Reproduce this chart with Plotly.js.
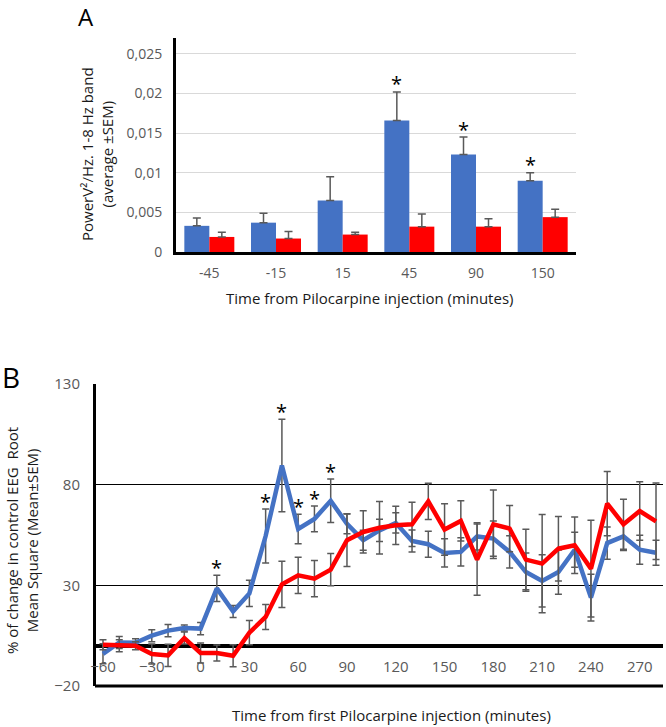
<!DOCTYPE html>
<html>
<head>
<meta charset="utf-8">
<script src="https://cdn.plot.ly/plotly-3.0.1.min.js"></script>
<style>html,body{margin:0;padding:0;background:#fff;}</style>
</head>
<body>
<div id="chart" style="width:666px;height:727px;"></div>
<script>
// ---------- Panel A data ----------
const catsA = ['-45', '-15', '15', '45', '90', '150'];
const blueA = [0.0033, 0.0037, 0.0065, 0.0166, 0.0123, 0.0090];
const blueErrA = [0.0010, 0.0012, 0.0030, 0.0036, 0.0022, 0.0010];
const redA = [0.0019, 0.0017, 0.0022, 0.0032, 0.0032, 0.0044];
const redErrA = [0.0006, 0.0009, 0.0003, 0.0016, 0.0010, 0.0010];
const starsA = ['45', '90', '150'];
const yTickValsA = [0, 0.005, 0.01, 0.015, 0.02, 0.025];
const yTickTextA = ['0', '0,005', '0,01', '0,015', '0,02', '0,025'];

// ---------- Panel B data ----------
const timeB = [-60, -50, -40, -30, -20, -10, 0, 10, 20, 30, 40, 50, 60, 70, 80, 90, 100, 110, 120, 130,
               140, 150, 160, 170, 180, 190, 200, 210, 220, 230, 240, 250, 260, 270, 280];
const blueB = [-4, 1.6, 1.5, 5, 7.5, 8.8, 8.5, 28.5, 17, 26, 54.5, 89.5, 58, 63, 72,
               60.6, 52.4, 57.3, 61, 52, 50.4, 46.1, 46.6, 54.3, 53.2, 46.6, 36.6, 32.2, 36.6, 47.7, 23.9, 51, 54.3, 47.7, 46.2];
const blueErrB = [5, 3, 2, 3, 3, 1.5, 3, 6.5, 3, 6.5, 13.4, 23, 7.3, 6.4, 10.8,
                  5, 5, 5.5, 5, 5.5, 6.5, 7, 7, 6.8, 8.8, 8, 9.5, 13, 11, 8.7, 11.6, 8, 7, 7.2, 6.2];
const redB = [0.5, 0, 0, -4.1, -4.8, 3.8, -3.6, -3.6, -5, 6.5, 14.3, 30.5, 35, 33.3, 37.8,
              52.4, 56.5, 58.6, 59.8, 60.3, 71.7, 57.7, 62, 42.8, 60.3, 58.2, 42.8, 40.8, 48.2, 49.9, 38.3, 70.6, 60.3, 66.9, 61.8];
const redErrB = [2.5, 3, 2, 5, 5.5, 3, 5, 4, 5.5, 6, 6.2, 11.5, 9, 9, 8,
                 13, 10.5, 13, 9.5, 11, 9, 12.8, 10, 17.7, 17, 11.5, 15, 24.4, 16, 14, 24, 16, 12.4, 14.5, 19];
const starsB = [10, 40, 50, 60, 70, 80];
const xTickValsB = [-60, -30, 0, 30, 60, 90, 120, 150, 180, 210, 240, 270];
const yTickValsB = [-20, 30, 80, 130];

// ---------- Layout helpers ----------
const W = 666, H = 727;
const fx = x => x / W;
const fy = y => 1 - y / H;
const BLUE = '#4472C4', RED = '#FF0000', ERR = '#595959';
const FONT = 'Open Sans, sans-serif';

const traces = [
  {type: 'bar', x: catsA, y: blueA, xaxis: 'x', yaxis: 'y', marker: {color: BLUE},
   error_y: {type: 'data', symmetric: false, array: blueErrA, arrayminus: blueErrA.map(() => 0), color: ERR, thickness: 1.5, width: 4}},
  {type: 'bar', x: catsA, y: redA, xaxis: 'x', yaxis: 'y', marker: {color: RED},
   error_y: {type: 'data', symmetric: false, array: redErrA, arrayminus: redErrA.map(() => 0), color: ERR, thickness: 1.5, width: 4}},
  {type: 'scatter', mode: 'lines', x: timeB, y: blueB, xaxis: 'x2', yaxis: 'y2',
   line: {color: BLUE, width: 4.5},
   error_y: {type: 'data', array: blueErrB, color: ERR, thickness: 1.5, width: 3.5}},
  {type: 'scatter', mode: 'lines', x: timeB, y: redB, xaxis: 'x2', yaxis: 'y2',
   line: {color: RED, width: 4.5},
   error_y: {type: 'data', array: redErrB, color: ERR, thickness: 1.5, width: 3.5}}
];

const annotations = [];
const bwA = (400 / catsA.length) * 0.75 / 2;
starsA.forEach(s => {
  const i = catsA.indexOf(s);
  annotations.push({x: i, y: blueA[i] + blueErrA[i], xref: 'x', yref: 'y', text: '*', showarrow: false,
    xanchor: 'center', xshift: -bwA / 2, yanchor: 'middle', yshift: 8, font: {family: FONT, size: 20, color: '#000'}});
});
starsB.forEach(s => {
  const i = timeB.indexOf(s);
  annotations.push({x: s, y: blueB[i] + blueErrB[i], xref: 'x2', yref: 'y2', text: '*', showarrow: false,
    xanchor: 'center', yanchor: 'middle', yshift: 8, font: {family: FONT, size: 20, color: '#000'}});
});
const P = {xref: 'paper', yref: 'paper', showarrow: false, xanchor: 'center', yanchor: 'middle'};
annotations.push(
  Object.assign({x: fx(86), y: fy(16), text: 'A', font: {family: FONT, size: 24, color: '#000'}}, P),
  Object.assign({x: fx(11), y: fy(377), text: 'B', font: {family: FONT, size: 28, color: '#000'}}, P),
  Object.assign({x: fx(97), y: fy(154), text: 'PowerV²/Hz. 1-8 Hz band<br>(average ±SEM)', textangle: -90,
   font: {family: FONT, size: 15, color: '#1a1a1a'}}, P),
  Object.assign({x: fx(369), y: fy(298), text: 'Time from Pilocarpine injection (minutes)',
   font: {family: FONT, size: 15, color: '#1a1a1a'}}, P),
  Object.assign({x: fx(22), y: fy(541), text: '% of change in control EEG  Root<br>Mean Square (Mean±SEM)', textangle: -90,
   font: {family: FONT, size: 15, color: '#1a1a1a'}}, P),
  Object.assign({x: fx(392), y: fy(715), text: 'Time from first Pilocarpine injection (minutes)',
   font: {family: FONT, size: 15, color: '#1a1a1a'}}, P)
);

const layout = {
  width: W, height: H, margin: {l: 0, r: 0, t: 0, b: 0},
  paper_bgcolor: '#fff', plot_bgcolor: 'rgba(0,0,0,0)', showlegend: false,
  barmode: 'group', bargap: 0.25, bargroupgap: 0,
  font: {family: FONT, size: 14, color: '#595959'},
  xaxis: {domain: [fx(176), fx(576)], anchor: 'y', type: 'category', categoryorder: 'array', categoryarray: catsA,
    range: [-0.5, catsA.length - 0.5],
    showline: true, linecolor: '#000', linewidth: 3, showgrid: false, zeroline: false,
    ticks: 'outside', ticklen: 6, tickcolor: 'rgba(0,0,0,0)', tickfont: {family: FONT, size: 14, color: '#595959'}},
  yaxis: {domain: [fy(252), fy(38)], anchor: 'x', range: [0, 0.027], tickvals: yTickValsA, ticktext: yTickTextA,
    showgrid: true, gridcolor: '#d9d9d9', gridwidth: 1, zeroline: false,
    showline: true, linecolor: '#000', linewidth: 3,
    ticks: 'outside', ticklen: 8, tickcolor: 'rgba(0,0,0,0)', tickfont: {family: FONT, size: 14, color: '#595959'}},
  xaxis2: {domain: [fx(96), fx(663)], anchor: 'free', position: fy(645), range: [-64.3, 284.3], tickvals: xTickValsB,
    showgrid: false, zeroline: false, showline: false,
    ticks: 'outside', ticklen: 8, tickcolor: 'rgba(0,0,0,0)', tickfont: {family: FONT, size: 15, color: '#595959'}},
  yaxis2: {domain: [fy(686), fy(384)], anchor: 'x2', range: [-20, 130], tickvals: yTickValsB,
    showgrid: true, gridcolor: '#000', gridwidth: 1.5,
    zeroline: true, zerolinecolor: '#000', zerolinewidth: 4,
    showline: true, linecolor: '#000', linewidth: 3,
    ticks: 'outside', ticklen: 10, tickcolor: 'rgba(0,0,0,0)', tickfont: {family: FONT, size: 15, color: '#595959'}},
  shapes: [
    {type: 'line', xref: 'paper', yref: 'paper', x0: fx(95), x1: fx(663), y0: fy(686), y1: fy(686), line: {color: '#000', width: 3}}
  ],
  annotations: annotations
};

Plotly.newPlot('chart', traces, layout, {displayModeBar: false, staticPlot: true});
</script>
</body>
</html>
